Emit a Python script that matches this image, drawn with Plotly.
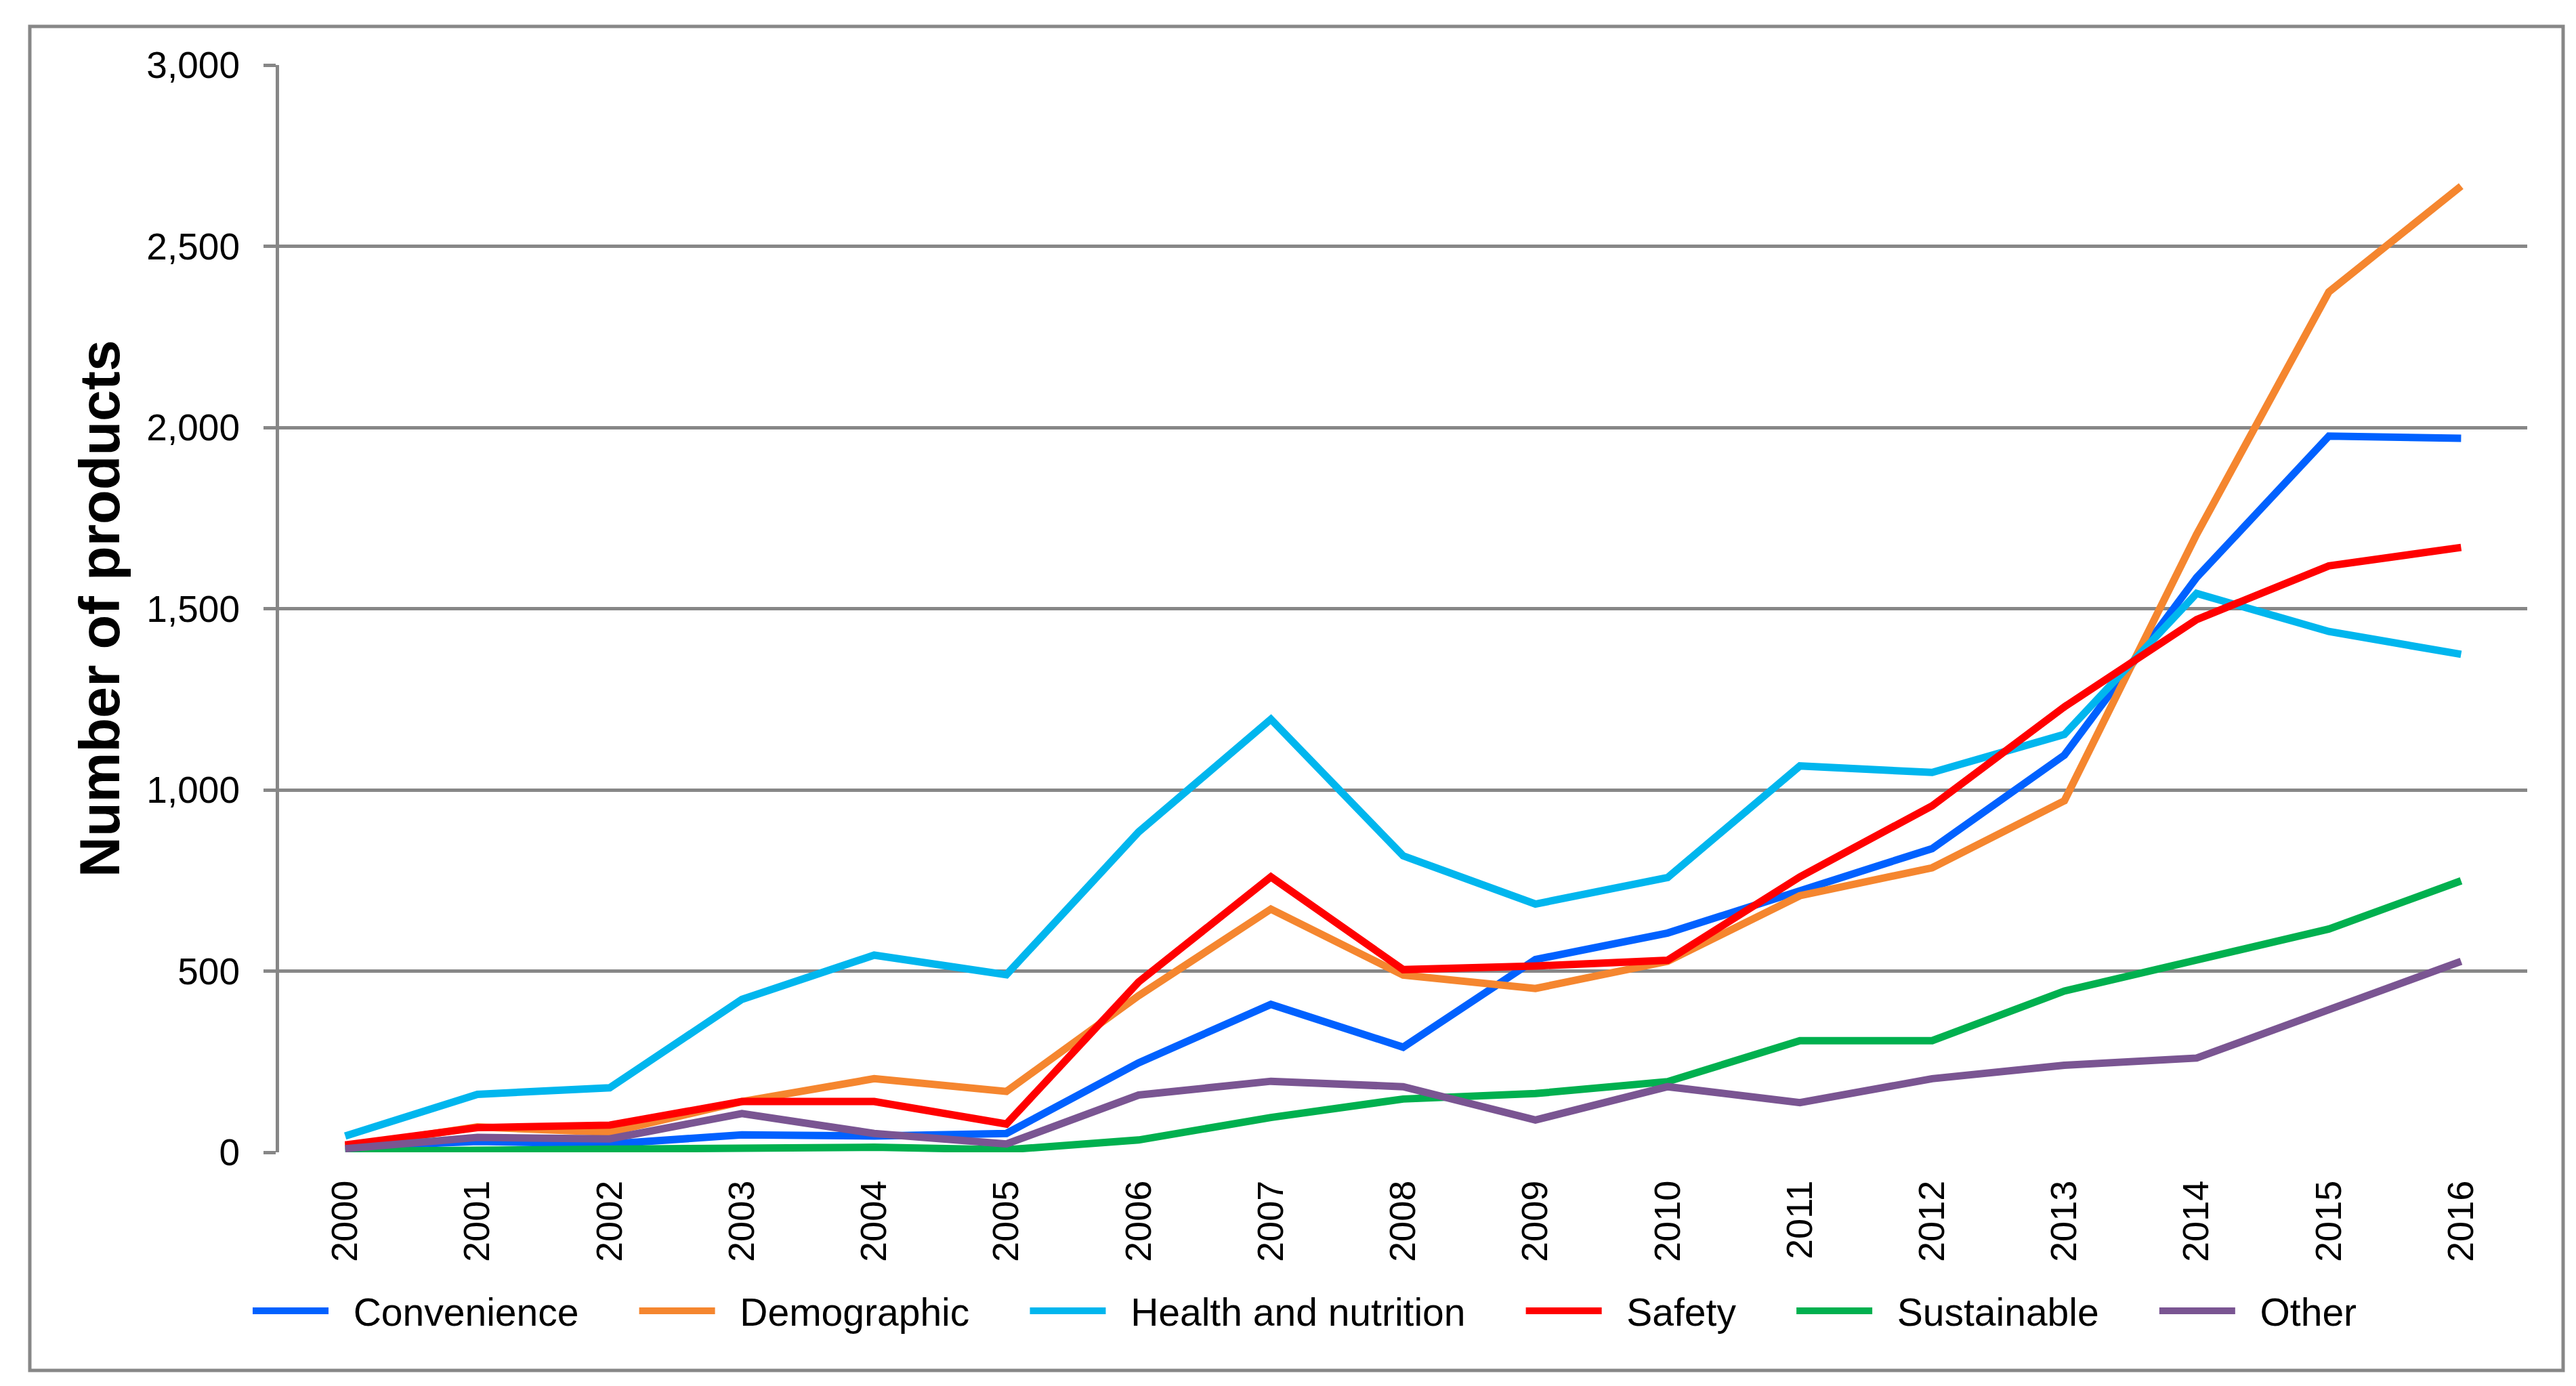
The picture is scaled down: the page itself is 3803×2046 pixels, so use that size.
import plotly.graph_objects as go

years = [str(y) for y in range(2000, 2017)]
convenience = [15, 30, 23, 48, 45, 52, 247, 408, 290, 532, 605, 719, 838, 1096, 1586, 1976, 1970]
demographic = [15, 70, 55, 140, 203, 168, 432, 671, 489, 452, 527, 708, 785, 970, 1705, 2374, 2666]
health = [45, 160, 178, 422, 544, 490, 884, 1195, 818, 685, 758, 1066, 1048, 1153, 1542, 1437, 1374]
safety = [20, 68, 75, 140, 140, 78, 470, 760, 504, 514, 530, 760, 956, 1229, 1470, 1618, 1669]
sustainable = [3, 7, 10, 11, 14, 7, 34, 96, 147, 162, 195, 308, 308, 445, 532, 616, 749]
other = [10, 41, 37, 107, 52, 23, 158, 196, 181, 89, 181, 137, 203, 240, 260, 395, 527]

names = ["Convenience", "Demographic", "Health and nutrition", "Safety", "Sustainable", "Other"]
values = [convenience, demographic, health, safety, sustainable, other]
colors = ["#0061FF", "#F5862F", "#00B6EE", "#FF0000", "#00B04F", "#7A5592"]
legend_pad = [5, 5, 5, 5, 5, 0]  # trailing spacing after each legend entry

y_ticks = [0, 500, 1000, 1500, 2000, 2500, 3000]
y_ticklabels = ["0", "500", "1,000", "1,500", "2,000", "2,500", "3,000"]

GRID = "#878787"
FONT = "Liberation Sans, Arial, sans-serif"
NB = "\u00a0"

fig = go.Figure()
for name, vals, col, pad in zip(names, values, colors, legend_pad):
    fig.add_trace(go.Scatter(x=years, y=vals, name=NB * 2 + name + NB * pad, mode="lines",
                             line=dict(color=col, width=11)))

W, H = 3803, 2046
L, R, T, B = 404, 80, 88, 353
pw, ph = W - L - R, H - T - B

fig.update_layout(
    width=W, height=H,
    margin=dict(l=L, r=R, t=T, b=B, pad=0),
    paper_bgcolor="white", plot_bgcolor="white",
    font=dict(family=FONT, color="black", size=54),
    showlegend=True,
    legend=dict(orientation="h", xref="container", x=360 / W, xanchor="left",
                yref="container", y=0.058, yanchor="middle",
                font=dict(size=57, family=FONT), itemwidth=112,
                bgcolor="rgba(0,0,0,0)"),
    xaxis=dict(type="category", tickangle=-90, showgrid=False,
               ticks="", showline=False, zeroline=False,
               tickfont=dict(size=54), ticklabelstandoff=30,
               range=[-0.5, 16.5]),
    yaxis=dict(range=[0, 3000], tickvals=y_ticks, ticktext=y_ticklabels,
               showgrid=True, gridcolor=GRID, gridwidth=5,
               showline=True, linecolor=GRID, linewidth=5,
               ticks="outside", ticklen=18, tickcolor=GRID, tickwidth=5,
               zeroline=False, tickfont=dict(size=55), ticklabelstandoff=24,
               title=dict(text="<b>Number of products</b>", font=dict(size=83), standoff=14)),
)

# outer chart frame
fig.add_shape(type="rect", xref="paper", yref="paper",
              x0=(36 - L) / pw, x1=(3776 - L) / pw,
              y0=(H - B - 2015) / ph, y1=(H - B - 31) / ph,
              line=dict(color=GRID, width=5), fillcolor="rgba(0,0,0,0)", layer="below")

fig.write_html("out.html")
